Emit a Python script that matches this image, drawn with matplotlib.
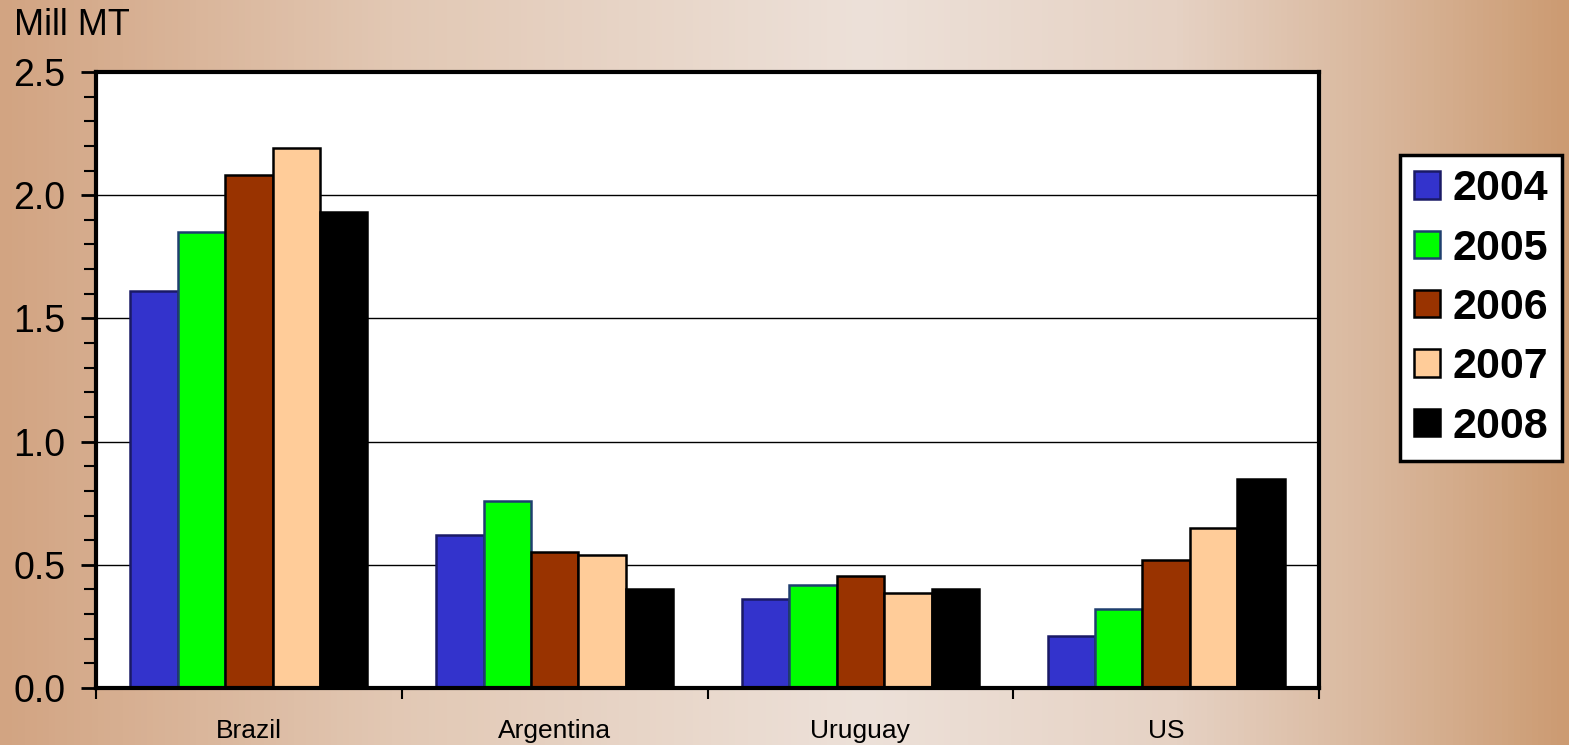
import numpy as np
import matplotlib
matplotlib.use("Agg")
import matplotlib.pyplot as plt
from matplotlib.colors import LinearSegmentedColormap
from matplotlib.ticker import MultipleLocator, FixedLocator

plt.rcParams['font.family'] = ['Liberation Sans', 'DejaVu Sans']

# data (million metric tons)
countries = ["Brazil", "Argentina", "Uruguay", "US"]
years = ["2004", "2005", "2006", "2007", "2008"]
v2004 = [1.61, 0.62, 0.36, 0.21]
v2005 = [1.85, 0.76, 0.42, 0.32]
v2006 = [2.08, 0.55, 0.455, 0.52]
v2007 = [2.19, 0.54, 0.385, 0.65]
v2008 = [1.93, 0.40, 0.40, 0.85]
series = [v2004, v2005, v2006, v2007, v2008]
colors = ['#3333CC', '#00FF00', '#993300', '#FFCC99', '#000000']
edges = ['#1a1a66', '#1f3f6f', '#000000', '#000000', '#000000']

fig = plt.figure(figsize=(15.69, 7.45), dpi=100)

# background gradient
bg = fig.add_axes([0, 0, 1, 1], zorder=-10)
cmap = LinearSegmentedColormap.from_list(
    "bg", [(0, '#d2a482'), (0.25, '#e2c8b4'), (0.55, '#ede1d9'),
           (0.75, '#e6d2c4'), (0.88, '#d9b79c'), (1, '#cc9b72')])
grad = np.linspace(0, 1, 512).reshape(1, -1)
bg.imshow(grad, aspect='auto', cmap=cmap, extent=[0, 1, 0, 1])
bg.axis('off')

ax = fig.add_axes([0.0612, 0.0765, 0.7795, 0.8269])
ax.set_facecolor('white')

x = np.arange(len(countries))
w = 0.155
for i, vals in enumerate(series):
    ax.bar(x + (i - 2) * w, vals, w, color=colors[i], edgecolor=edges[i],
           linewidth=1.8, label=years[i], zorder=3)

ax.set_xlim(-0.5, len(countries) - 0.5)
ax.set_ylim(0, 2.5)

ax.yaxis.set_major_locator(MultipleLocator(0.5))
ax.yaxis.set_minor_locator(MultipleLocator(0.1))
ax.set_yticklabels([f"{v:.1f}" for v in ax.get_yticks()])
ax.tick_params(axis='y', which='major', direction='out', length=11, width=2,
               labelsize=27, pad=11)
ax.tick_params(axis='y', which='minor', direction='out', length=9, width=1.5)

ax.xaxis.set_major_locator(FixedLocator(np.arange(-0.5, len(countries), 1.0)))
ax.xaxis.set_minor_locator(FixedLocator(x))
ax.xaxis.set_major_formatter(plt.NullFormatter())
ax.xaxis.set_minor_formatter(plt.FixedFormatter(countries))
ax.tick_params(axis='x', which='major', direction='out', length=8, width=1.5)
ax.tick_params(axis='x', which='minor', length=0, labelsize=19, pad=22)

ax.grid(axis='y', which='major', color='black', linewidth=1, zorder=0)
ax.set_axisbelow(True)
for s in ax.spines.values():
    s.set_linewidth(3)
    s.set_zorder(5)

fig.text(0.009, 0.966, "Mill MT", fontsize=26, ha='left', va='center')

leg = fig.legend(loc='upper left', bbox_to_anchor=(0.892, 0.792),
                 prop={'weight': 'bold', 'size': 31}, frameon=True,
                 fancybox=False, framealpha=1, edgecolor='black',
                 handlelength=0.6, handleheight=0.6, handletextpad=0.3,
                 labelspacing=0.45, borderpad=0.33, borderaxespad=0)
leg.get_frame().set_linewidth(2.5)

fig.savefig("out.png", dpi=100)
